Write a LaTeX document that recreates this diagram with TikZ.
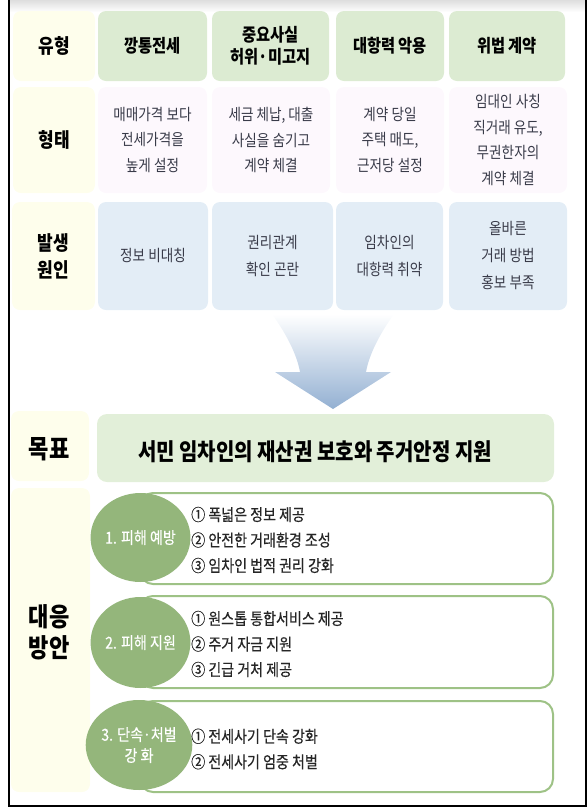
\documentclass[tikz,border=0pt]{standalone}
\usepackage{fontspec}
\setmainfont{Noto Sans CJK KR}[FakeStretch=0.85]
\newfontfamily\medf{Noto Sans CJK KR}[FakeStretch=0.85,FakeBold=0.4]
\usetikzlibrary{shapes.geometric}
\definecolor{labcol}{HTML}{FEFEEC}
\definecolor{hdrcol}{HTML}{DCEBD2}
\definecolor{pinkcol}{HTML}{FDF8FD}
\definecolor{bluecol}{HTML}{E3EDF6}
\definecolor{goalcol}{HTML}{E2EFD9}
\definecolor{circcol}{HTML}{94B67B}
\definecolor{bordcol}{HTML}{9EC286}
\definecolor{txtgray}{HTML}{393B49}
\definecolor{itemcol}{HTML}{262626}
\definecolor{arrowmid}{HTML}{B3D3EE}
\definecolor{arrowbot}{HTML}{93B0D2}
\newcommand\fsz[2]{\fontsize{#1}{#2}\selectfont}
\tikzset{
 cell/.style={rounded corners=8pt, inner sep=0pt, outer sep=0pt, align=center},
 labbox/.style={cell, fill=labcol, font=\fsz{20}{27}\bfseries},
 bigbox/.style={cell, fill=labcol, font=\fsz{26}{31}\bfseries},
 hdrbox/.style={cell, fill=hdrcol, font=\fsz{18}{22}\bfseries},
 formbox/.style={cell, fill=pinkcol, text=txtgray, font=\fsz{16}{25.5}},
 causebox/.style={cell, fill=bluecol, text=txtgray, font=\fsz{16}{27}},
 goalbox/.style={cell, fill=goalcol, rounded corners=10pt},
 planbox/.style={draw=bordcol, line width=2pt, fill=white, rounded corners=13pt, inner sep=0pt},
 circ/.style={ellipse, fill=circcol, text=white, inner sep=0pt, align=center, font=\medf\fsz{16.5}{21}},
 items/.style={anchor=west, align=left, text=itemcol, font=\medf\fsz{16.5}{25.5}, inner sep=0pt},
}
\begin{document}
\begin{tikzpicture}[x=1pt,y=-1pt]
\useasboundingbox (0,0) rectangle (587,812);
% frame
\shade[top color=black!13, bottom color=white] (9.6,0) rectangle (585.4,12);
\draw[line width=1.3pt] (9,0) -- (9,806) -- (586,806) -- (586,0);
% row 1
\node[labbox, minimum width=82pt, minimum height=70pt] (lab1) at (54,46) {유형};
\node[hdrbox, minimum width=109pt, minimum height=70pt] (h1) at (152.5,46) {깡통전세};
\node[hdrbox, minimum width=117pt, minimum height=70pt] (h2) at (270.5,46) {중요사실\\허위·미고지};
\node[hdrbox, minimum width=108pt, minimum height=70pt] (h3) at (390,46) {대항력 악용};
\node[hdrbox, minimum width=116pt, minimum height=70pt] (h4) at (507,46) {위법 계약};
% row 2
\node[labbox, minimum width=82pt, minimum height=106pt] (lab2) at (54,140) {형태};
\node[formbox, minimum width=109pt, minimum height=106pt] (f1) at (152.5,140) {매매가격 보다\\전세가격을\\높게 설정};
\node[formbox, minimum width=118pt, minimum height=106pt] (f2) at (271,140) {세금 체납, 대출\\사실을 숨기고\\계약 체결};
\node[formbox, minimum width=108pt, minimum height=106pt] (f3) at (390,140) {계약 당일\\주택 매도,\\근저당 설정};
\node[formbox, minimum width=118pt, minimum height=106pt] (f4) at (508,140) {임대인 사칭\\직거래 유도,\\무권한자의\\계약 체결};
% row 3
\node[labbox, minimum width=83pt, minimum height=108pt] (lab3) at (53.5,256) {발생\\원인};
\node[causebox, minimum width=110pt, minimum height=108pt] (r1) at (153,256) {정보 비대칭};
\node[causebox, minimum width=121pt, minimum height=108pt] (r2) at (272.5,256) {권리관계\\확인 곤란};
\node[causebox, minimum width=107pt, minimum height=108pt] (r3) at (389.5,256) {임차인의\\대항력 취약};
\node[causebox, minimum width=118pt, minimum height=108pt] (r4) at (508,256) {올바른\\거래 방법\\홍보 부족};
% arrow
\shade[top color=white, middle color=arrowmid, bottom color=arrowbot]
 (272,314) .. controls (287,335) and (297,355) .. (300,372) -- (275,372) -- (333,409)
 -- (391,372) -- (366,372) .. controls (369,355) and (379,335) .. (394,314) -- cycle;
% goal
\node[bigbox, minimum width=78pt, minimum height=70pt] (lab4) at (50,446) {};
\node[font=\fsz{26}{31}\bfseries, inner sep=0pt] (lab4t) at (49,449) {목표};
\node[goalbox, minimum width=457pt, minimum height=68pt] (goal) at (325.5,448) {};
\node[font=\fsz{23.5}{25}\bfseries, inner sep=0pt] (goaltext) at (315,452) {서민 임차인의 재산권 보호와 주거안정 지원};
% plans
\node[bigbox, minimum width=79pt, minimum height=304pt] (lab5) at (50.5,640) {};
\node[font=\fsz{26}{31}\bfseries, inner sep=0pt, align=center] (lab5t) at (49,632) {대응\\방안};
\node[planbox, minimum width=413pt, minimum height=91pt] (p1) at (346.5,538.5) {};
\node[planbox, minimum width=413pt, minimum height=92pt] (p2) at (346.5,642) {};
\node[planbox, minimum width=413pt, minimum height=91pt] (p3) at (346.5,746.5) {};
\node[circ, minimum width=83pt, minimum height=89pt] (c1) at (140.5,537.5) {1. 피해 예방};
\node[circ, minimum width=83pt, minimum height=91pt] (c2) at (140.5,642.5) {2. 피해 지원};
\node[circ, minimum width=82pt, minimum height=90pt] (c3) at (139,745) {3. 단속·처벌\\강 화};
\node[items] (i1) at (191,540) {① 폭넓은 정보 제공\\② 안전한 거래환경 조성\\③ 임차인 법적 권리 강화};
\node[items] (i2) at (191,644) {① 원스톱 통합서비스 제공\\② 주거 자금 지원\\③ 긴급 거처 제공};
\node[items] (i3) at (191,749) {① 전세사기 단속 강화\\② 전세사기 엄중 처벌};
\end{tikzpicture}
\end{document}
